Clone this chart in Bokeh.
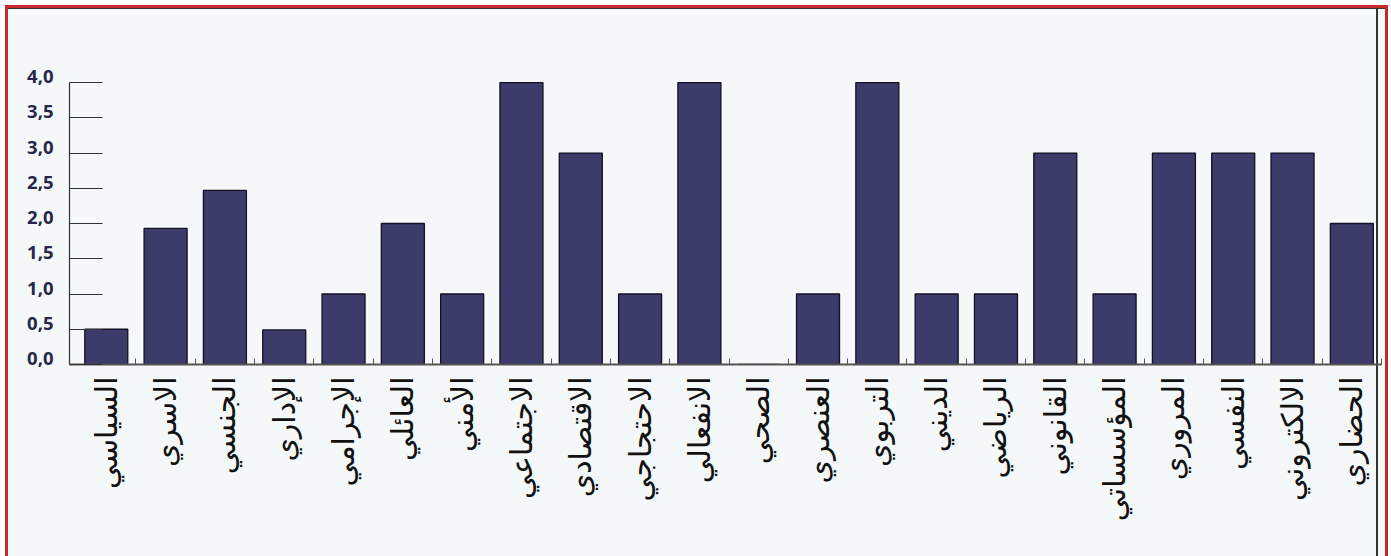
from bokeh.plotting import figure
from bokeh.models import Range1d, FixedTicker, ColumnDataSource, LinearAxis
from bokeh.embed import file_html
from bokeh.resources import INLINE

categories = ["السياسي", "الاسري", "الجنسي", "الإداري", "الإجرامي", "العائلي",
              "الأمني", "الاجتماعي", "الاقتصادي", "الاحتجاجي", "الانفعالي", "الصحي",
              "العنصري", "التربوي", "الديني", "الرياضي", "القانوني", "المؤسساتي",
              "المروري", "النفسي", "الالكتروني", "الحضاري"]
values = [0.5, 1.93, 2.47, 0.49, 1.0, 2.0, 1.0, 4.0, 3.0, 1.0, 4.0, 0.0,
          1.0, 4.0, 1.0, 1.0, 3.0, 1.0, 3.0, 3.0, 3.0, 2.0]
y_ticks = [0.0, 0.5, 1.0, 1.5, 2.0, 2.5, 3.0, 3.5, 4.0]
y_tick_labels = ["0,0", "0,5", "1,0", "1,5", "2,0", "2,5", "3,0", "3,5", "4,0"]

n = len(categories)
centers = [i + 0.5 for i in range(n)]
bounds = [i + 1 for i in range(n)]

src = ColumnDataSource(dict(x=centers, top=values))

BG = "#f4f8f9"
container_style = {
    "margin-left": "8px",
    "margin-top": "8px",
    "background": ("linear-gradient(#333333,#333333) left top / 100% 1px no-repeat, "
                   "linear-gradient(#333333,#333333) right 7px top / 2px 100% no-repeat, "
                   + BG),
    "box-shadow": "0 0 0 3px #c8282c",
}

Y_TOP = 4.1
p = figure(frame_width=1312, frame_height=289,
           min_border_left=61, min_border_right=4, min_border_top=67, min_border_bottom=192,
           x_range=Range1d(-0.12, n), y_range=Range1d(0, Y_TOP),
           output_backend="svg", toolbar_location=None,
           background_fill_color=None, border_fill_color=None,
           styles=container_style)
p.outline_line_color = None
p.grid.visible = False

p.vbar(x="x", top="top", width=0.725, source=src, fill_color="#3c3c6c",
       line_color="#111122", line_width=1.3)

# y axis: ticks and line only (axis line stops at 4.0 like the reference)
ya = p.yaxis[0]
ya.ticker = FixedTicker(ticks=y_ticks, minor_ticks=[])
ya.bounds = (y_ticks[0], y_ticks[-1])
ya.major_tick_in = 33
ya.major_tick_out = 0
ya.major_tick_line_color = "#333333"
ya.axis_line_color = "#333333"
ya.axis_line_width = 1.2
ya.major_label_overrides = {t: "" for t in y_ticks}
ya.major_label_standoff = 0

# y tick labels, drawn slightly above their ticks as in the reference
shift = 0.085
p.extra_y_ranges = {"labels": Range1d(-shift, Y_TOP - shift)}
ylab = LinearAxis(y_range_name="labels", ticker=FixedTicker(ticks=y_ticks, minor_ticks=[]))
ylab.major_label_overrides = {t: l for t, l in zip(y_ticks, y_tick_labels)}
ylab.axis_line_color = None
ylab.major_tick_line_color = None
ylab.minor_tick_line_color = None
ylab.major_tick_in = 0
ylab.major_tick_out = 0
ylab.major_label_text_font = "Open Sans"
ylab.major_label_text_font_style = "bold"
ylab.major_label_text_font_size = "18.5px"
ylab.major_label_text_color = "#26264a"
ylab.major_label_standoff = 16
p.add_layout(ylab, "left")

# x axis
xa = p.xaxis[0]
xa.ticker = FixedTicker(ticks=centers, minor_ticks=bounds)
xa.major_label_overrides = {c: l for c, l in zip(centers, categories)}
xa.major_label_orientation = 3.14159265 / 2
xa.major_tick_in = 0
xa.major_tick_out = 0
xa.minor_tick_in = 6
xa.minor_tick_out = 0
xa.minor_tick_line_color = "#555555"
xa.axis_line_color = "#555555"
xa.axis_line_width = 2
xa.major_label_text_font = "DejaVu Sans"
xa.major_label_text_font_size = "30px"
xa.major_label_text_color = "#111111"
xa.major_label_standoff = 12

open("out.html", "w").write(file_html(p, INLINE))
